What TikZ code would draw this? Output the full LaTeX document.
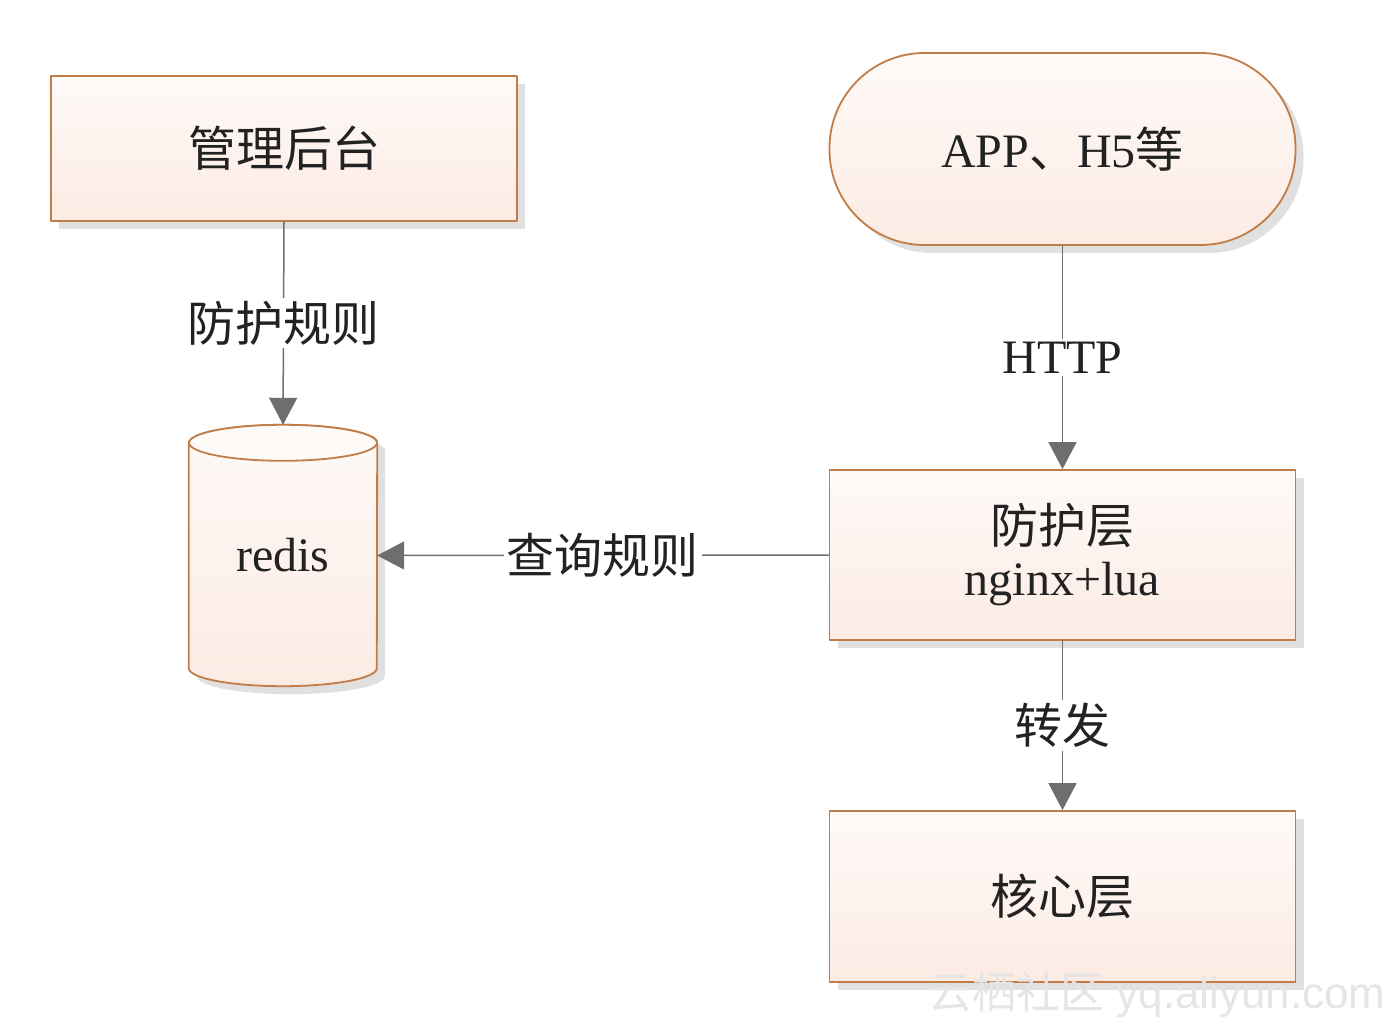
\documentclass[tikz,border=0pt]{standalone}
\usepackage{fontspec}
\setmainfont{Liberation Serif}
\newfontfamily\cjk{Noto Sans CJK SC}
\newfontfamily\wmfont{Liberation Sans}
\usetikzlibrary{arrows.meta,shadows,calc,backgrounds}

\definecolor{edge}{HTML}{C27C47}
\definecolor{filltop}{HTML}{FEFAF8}
\definecolor{fillbot}{HTML}{FCEBE3}
\definecolor{wire}{HTML}{6E6E6E}
\definecolor{ink}{HTML}{222222}
\definecolor{shadowgray}{HTML}{E0E0E0}

\begin{document}
\begin{tikzpicture}[
  x=1pt, y=-1pt,
  line cap=round, line join=round,
  every node/.style={font=\fontsize{48}{52}\selectfont, text=ink},
  box/.style={draw=edge, line width=1.8pt, top color=filltop, bottom color=fillbot,
    minimum width=466pt, inner sep=0pt,
    drop shadow={shadow xshift=8pt, shadow yshift=-8pt, fill=shadowgray, opacity=1}},
  pill/.style={box, rounded corners=95pt},
  cyl/.style={draw=edge, line width=1.8pt, top color=filltop, bottom color=fillbot},
  wire/.style={draw=wire, line width=1.5pt, -{Triangle[width=28pt,length=27pt]}},
  lbl/.style={fill=white, inner sep=3pt, font=\fontsize{48}{52}\selectfont},
  watermark/.style={font=\wmfont\fontsize{44}{48}\selectfont, text=black!10},
]
\useasboundingbox (0,0) rectangle (1400,1027);

% left column
\node[box, minimum height=145pt] (admin) at (284,148.5) {\cjk 管理后台};
\node[minimum width=188pt, minimum height=261pt, inner sep=0pt] (redis) at (283,555.5) {redis};
\begin{scope}[on background layer]
\fill[shadowgray] ($(redis.north west)+(8,26)$) -- ($(redis.south west)+(8,-10)$)
  arc[start angle=180, end angle=360, x radius=94pt, y radius=18pt]
  -- ($(redis.north east)+(8,26)$)
  arc[start angle=0, end angle=180, x radius=94pt, y radius=18pt] -- cycle;
\path[cyl] ($(redis.north west)+(0,18)$) -- ($(redis.south west)+(0,-18)$)
  arc[start angle=180, end angle=360, x radius=94pt, y radius=18pt]
  -- ($(redis.north east)+(0,18)$)
  arc[start angle=0, end angle=180, x radius=94pt, y radius=18pt] -- cycle;
\draw[draw=edge, line width=1.8pt, fill=filltop] ($(redis.north)+(0,18)$)
  ellipse [x radius=94pt, y radius=18pt];
\end{scope}

% right column
\node[pill, minimum height=192pt] (client) at (1062.5,149) {APP{\cjk 、}H5{\cjk 等}};
\node[box, minimum height=170pt, align=center] (guard) at (1062.5,555) {{\cjk 防护层}\\nginx+lua};
\node[box, minimum height=171pt] (core) at (1062.5,896.5) {\cjk 核心层};

% connectors
\draw[wire] (admin.south) -- node[lbl] (rule) {\cjk 防护规则} (redis.north);
\draw[wire] (client.south) -- node[lbl] (http) {HTTP} (guard.north);
\draw[wire] (guard.south) -- node[lbl] (fwd) {\cjk 转发} (core.north);
\draw[wire] (guard.west) -- node[lbl] (query) {\cjk 查询规则} (redis.east);

\node[watermark] (wm) at (1157,995) {{\cjk 云栖社区} yq.aliyun.com};
\end{tikzpicture}
\end{document}
